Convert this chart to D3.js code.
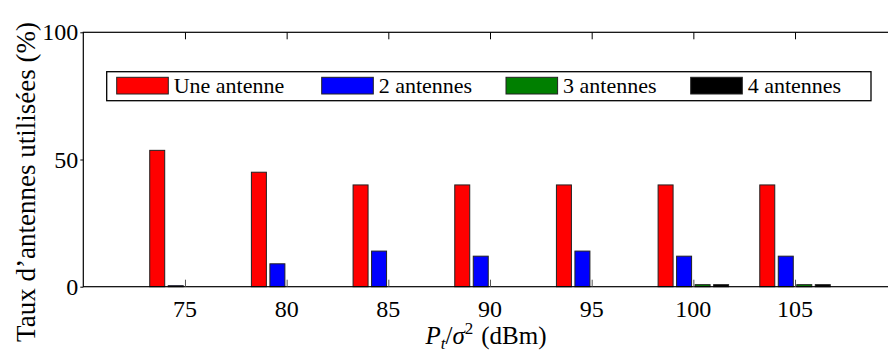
<!DOCTYPE html>
<html><head><meta charset="utf-8">
<script src="https://cdn.jsdelivr.net/npm/d3@7"></script>
</head>
<body style="margin:0">
<svg id="chart" width="888" height="352"></svg>
<script>
const categories = [75, 80, 85, 90, 95, 100, 105];
const seriesNames = ["Une antenne", "2 antennes", "3 antennes", "4 antennes"];
const seriesColors = ["#ff0000", "#0000ff", "#007f00", "#000000"];
const uneAntenne = [53.6, 45, 40, 40, 40, 40, 40];
const deuxAntennes = [0.4, 9, 14, 12, 14, 12, 12];
const troisAntennes = [0, 0, 0, 0, 0, 0.8, 0.8];
const quatreAntennes = [0, 0, 0, 0, 0, 0.8, 0.8];
const yTicks = [0, 50, 100];
const yLabel = "Taux d\u2019antennes utilis\u00e9es (%)";

const seriesValues = [uneAntenne, deuxAntennes, troisAntennes, quatreAntennes];
const FONT = "Times New Roman";

const svg = d3.select("#chart");
const L = 83.3, R = 896.7, T = 32.3, B = 286.7;

const x = d3.scaleLinear().domain([70, 110]).range([L, R]);
const y = d3.scaleLinear().domain([0, 100]).range([B, T]);
const inner = d3.scaleBand().domain(d3.range(4)).range([-35.25, 35.25]).paddingInner(0.19).paddingOuter(0);

function txt(xp, yp, s, size, opts = {}) {
  const t = svg.append("text").attr("x", xp).attr("y", yp)
    .attr("font-family", FONT).style("font-family", FONT)
    .attr("font-size", size).attr("fill", "#000").text(s);
  if (opts.anchor) t.attr("text-anchor", opts.anchor);
  if (opts.italic) t.attr("font-style", "italic").style("font-style", "italic");
  return t;
}

seriesValues.forEach((vals, si) => {
  svg.append("g").selectAll("rect").data(vals).join("rect")
    .attr("x", (d, i) => x(categories[i]) + inner(si))
    .attr("width", inner.bandwidth())
    .attr("y", d => y(d))
    .attr("height", d => y(0) - y(d))
    .attr("fill", seriesColors[si])
    .attr("stroke", d => d === 0 ? "#9a9a9a" : "#222")
    .attr("stroke-width", 1);
});

svg.append("rect").attr("x", L).attr("y", T).attr("width", R - L).attr("height", B - T)
  .attr("fill", "none").attr("stroke", "#000").attr("stroke-width", 1.2);

// axis tick marks via d3 axes
const xAxis = svg.append("g").attr("transform", `translate(0,${B})`)
  .call(d3.axisBottom(x).tickValues(categories).tickSize(-7).tickFormat(""));
xAxis.select(".domain").remove();
xAxis.selectAll("line").attr("stroke", "#555");

const xTop = svg.append("g").attr("transform", `translate(0,${T})`)
  .call(d3.axisTop(x).tickValues(categories).tickSize(-7).tickFormat(""));
xTop.select(".domain").remove();
xTop.selectAll("line").attr("stroke", "#000");

const yAxis = svg.append("g").attr("transform", `translate(${L},0)`)
  .call(d3.axisLeft(y).tickValues(yTicks).tickSize(3).tickFormat(""));
yAxis.select(".domain").remove();
yAxis.selectAll("line").attr("stroke", "#000");

// tick labels
categories.forEach(c => txt(x(c), B + 30.5, d3.format("d")(c), 24, { anchor: "middle" }));
yTicks.forEach(v => txt(L - 5, y(v) + 8, d3.format("d")(v), 24, { anchor: "end" }));

// legend
svg.append("rect").attr("x", 106.7).attr("y", 71.7).attr("width", 871 - 106.7).attr("height", 29)
  .attr("fill", "#fff").attr("stroke", "#000").attr("stroke-width", 1.3);
const swX = [116.7, 321.7, 506, 690.7];
seriesNames.forEach((name, i) => {
  svg.append("rect").attr("x", swX[i]).attr("y", 77.3).attr("width", 51.6).attr("height", 16.7)
    .attr("fill", seriesColors[i]).attr("stroke", "#222").attr("stroke-width", 1);
  txt(swX[i] + 57, 93.3, name, 22);
});

// x label built from separate pieces
const pieces = [
  { s: "P", size: 25, italic: true, dy: 0 },
  { s: "t", size: 17, italic: true, dy: 5 },
  { s: "/", size: 25, italic: false, dy: 0 },
  { s: "\u03c3", size: 25, italic: true, dy: 0 },
  { s: "2", size: 17, italic: false, dy: -10 },
  { s: "(dBm)", size: 25, italic: false, dy: 0, gap: 8 }
];
const nodes = pieces.map(p => txt(0, 344 + p.dy, p.s, p.size, { italic: p.italic }));
const widths = nodes.map(n => n.node().getComputedTextLength());
const total = d3.sum(widths) + d3.sum(pieces, p => p.gap || 0);
let cx = 486 - total / 2;
nodes.forEach((n, i) => {
  cx += pieces[i].gap || 0;
  n.attr("x", cx);
  cx += widths[i];
});

// y label
txt(0, 0, yLabel, 27, { anchor: "middle" }).attr("transform", "translate(35,182) rotate(-90)");
</script>
</body></html>
